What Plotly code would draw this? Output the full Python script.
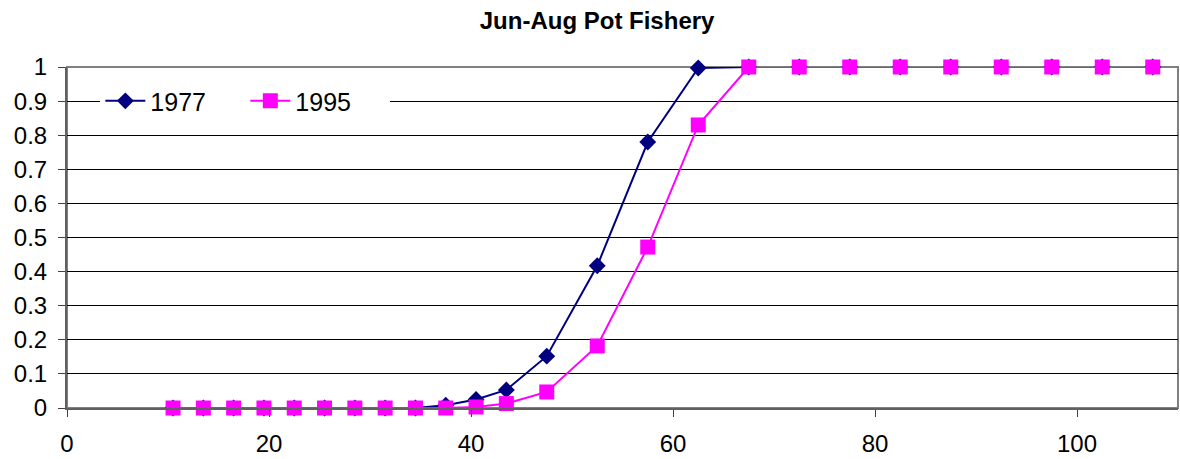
import plotly.graph_objects as go

x_vals = [10.5, 13.5, 16.5, 19.5, 22.5, 25.5, 28.5, 31.5, 34.5, 37.5, 40.5, 43.5,
          47.5, 52.5, 57.5, 62.5, 67.5, 72.5, 77.5, 82.5, 87.5, 92.5, 97.5, 102.5, 107.5]
y_1977 = [0, 0, 0, 0, 0, 0, 0, 0, 0, 0.008, 0.025, 0.053,
          0.152, 0.417, 0.78, 0.997, 1, 1, 1, 1, 1, 1, 1, 1, 1]
y_1995 = [0, 0, 0, 0, 0, 0, 0, 0, 0, 0, 0.003, 0.013,
          0.047, 0.182, 0.472, 0.83, 1, 1, 1, 1, 1, 1, 1, 1, 1]
x_ticks = [0, 20, 40, 60, 80, 100]
y_ticks = [0, 0.1, 0.2, 0.3, 0.4, 0.5, 0.6, 0.7, 0.8, 0.9, 1]
y_tick_labels = ["0", "0.1", "0.2", "0.3", "0.4", "0.5", "0.6", "0.7", "0.8", "0.9", "1"]

FONT = "Arial, Liberation Sans, sans-serif"

fig = go.Figure()
fig.add_trace(go.Scatter(
    x=x_vals, y=y_1977, name="1977", mode="lines+markers",
    line=dict(color="#000080", width=2),
    marker=dict(symbol="diamond", size=13, color="#000080"),
    cliponaxis=False,
))
fig.add_trace(go.Scatter(
    x=x_vals, y=y_1995, name="1995", mode="lines+markers",
    line=dict(color="#FF00FF", width=2),
    marker=dict(symbol="square", size=15, color="#FF00FF"),
    cliponaxis=False,
))

fig.update_layout(
    width=1180, height=459,
    margin=dict(l=67, r=2, t=67, b=51),
    paper_bgcolor="white", plot_bgcolor="white",
    font=dict(family=FONT, color="black"),
    title=dict(text="<b>Jun-Aug Pot Fishery</b>", x=0.506, xanchor="center",
               y=0.955, yanchor="middle", font=dict(size=24, family=FONT, color="black")),
    legend=dict(
        orientation="h", x=0.03, xanchor="left", y=0.9, yanchor="middle",
        bgcolor="white", font=dict(size=25, family=FONT, color="black"),
        entrywidth=90, entrywidthmode="pixels", itemwidth=40,
        borderwidth=0,
    ),
    showlegend=True,
    shapes=[dict(type="rect", xref="paper", yref="paper", x0=0, x1=1, y0=0, y1=1,
                 line=dict(color="#808080", width=2), layer="between")],
)
fig.update_xaxes(
    range=[0, 110], tickvals=x_ticks, ticktext=[str(v) for v in x_ticks],
    showgrid=False, zeroline=False,
    showline=True, linecolor="#606060", linewidth=2,
    ticks="outside", ticklen=7, tickcolor="#404040", tickwidth=1,
    ticklabelstandoff=6,
    tickfont=dict(size=24, family=FONT, color="black"),
)
fig.update_yaxes(
    range=[0, 1], tickvals=y_ticks, ticktext=y_tick_labels,
    showgrid=True, gridcolor="black", gridwidth=1, zeroline=False,
    showline=True, linecolor="#606060", linewidth=2,
    ticks="outside", ticklen=7, tickcolor="#404040", tickwidth=1,
    ticklabelstandoff=6,
    tickfont=dict(size=24, family=FONT, color="black"),
)

fig.write_html("out.html")
